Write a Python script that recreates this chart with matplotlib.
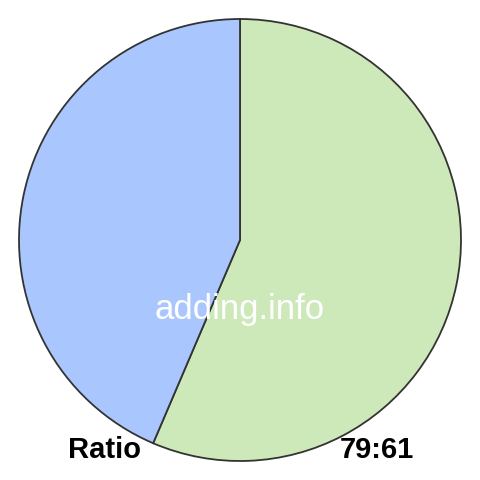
import matplotlib.pyplot as plt

# data
labels = ['79', '61']
values = [79, 61]
colors = ['#cde8b9', '#a9c7fe']

plt.rcParams['font.family'] = ['Liberation Sans', 'DejaVu Sans']

fig = plt.figure(figsize=(4.8, 4.8), dpi=100)
ax = fig.add_axes([0, 0, 1, 1])
ax.set_xlim(0, 480)
ax.set_ylim(0, 480)
ax.set_aspect('equal')
ax.axis('off')

ax.pie(values, colors=colors, startangle=90, counterclock=False,
       center=(240, 240), radius=221,
       wedgeprops=dict(edgecolor='#333333', linewidth=1.3))
ax.set_xlim(0, 480)
ax.set_ylim(0, 480)

ax.text(240, 171, 'adding.info', color='white', fontsize=25,
        ha='center', va='center')
ax.text(104, 30, 'Ratio', fontsize=21, fontweight='bold',
        ha='center', va='center')
ax.text(377, 30, f'{values[0]}:{values[1]}', fontsize=21, fontweight='bold',
        ha='center', va='center')

fig.savefig('out.png', dpi=100)
